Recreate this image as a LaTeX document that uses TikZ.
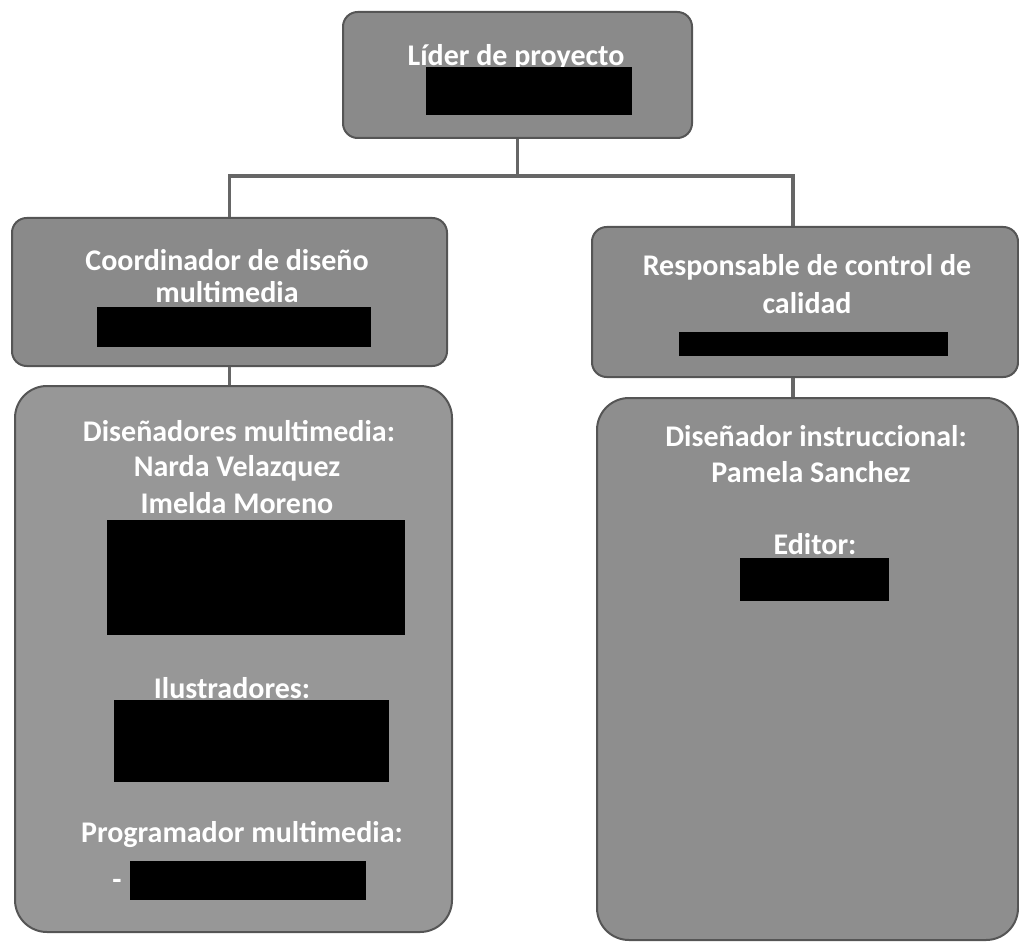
\documentclass[tikz,border=0pt]{standalone}
\usepackage{fontspec}
\setmainfont{Carlito}
\usetikzlibrary{fit}
\definecolor{boxfill}{HTML}{8A8A8A}
\definecolor{lowfill}{HTML}{979797}
\definecolor{lowfillr}{HTML}{8E8E8E}
\definecolor{boxline}{HTML}{555555}
\definecolor{linkc}{HTML}{666666}
\begin{document}
\begin{tikzpicture}[x=0.75pt,y=-0.75pt,
  box/.style={draw=boxline, line width=1.5pt, fill=boxfill, rounded corners=11pt, inner sep=0pt},
  lowbox/.style={box, fill=lowfill, rounded corners=24pt},
  lbl/.style={text=white, font=\bfseries\fontsize{22.5}{24}\selectfont, align=center, inner sep=0pt},
  redact/.style={fill=black, draw=none, inner sep=0pt},
  link/.style={draw=linkc, line width=2.8pt}]
\useasboundingbox (0,0) rectangle (1019,944);

% boxes
\node[box, fit={(343,12)(692,138)}] (lider) {};
\node[box, fit={(12,218)(447,366)}] (coord) {};
\node[box, fit={(592,227)(1018,377)}] (resp) {};
\node[lowbox, fit={(15,386)(452,932)}] (dis) {};
\node[lowbox, fill=lowfillr, fit={(597,398)(1018,940)}] (instr) {};

% connectors
\coordinate (bus) at (517.5,176);
\coordinate (respx) at (793,0);
\draw[link] (lider.south) -- (bus);
\draw[link] (bus) -| (coord.north);
\draw[link] (bus) -| (resp.north -| respx);
\draw[link] (coord.south) -- (coord.south |- dis.north);
\draw[link] (resp.south -| respx) -- (instr.north -| respx);

% texts
\node[lbl] (tlider) at (516,57) {Líder de proyecto};
\node[lbl] (tcoord) at (227,276) {Coordinador de diseño\\multimedia};
\node[lbl, font=\bfseries\fontsize{22.5}{28}\selectfont] (tresp) at (807,284) {Responsable de control de\\calidad};
\node[lbl] (tdis) at (239,431) {Diseñadores multimedia:};
\node[lbl] (tnarda) at (237,468) {Narda Velazquez};
\node[lbl] (timelda) at (237,503) {Imelda Moreno};
\node[lbl] (tilus) at (232,688) {Ilustradores:};
\node[lbl] (tprog) at (242,834) {Programador multimedia:};
\node[lbl] (tdash) at (117,884) {-};
\node[lbl] (tinstr) at (816,436) {Diseñador instruccional:};
\node[lbl] (tpam) at (811,472) {Pamela Sanchez};
\node[lbl] (tedit) at (815,544) {Editor:};

% redactions
\node[redact, fit={(426,67)(632,115)}] (r1) {};
\node[redact, fit={(97,307)(371,347)}] (r2) {};
\node[redact, fit={(679,332)(948,356)}] (r3) {};
\node[redact, fit={(107,520)(405,635)}] (r4) {};
\node[redact, fit={(114,700)(389,782)}] (r5) {};
\node[redact, fit={(130,861)(366,900)}] (r6) {};
\node[redact, fit={(740,558)(889,601)}] (r7) {};
\end{tikzpicture}
\end{document}
